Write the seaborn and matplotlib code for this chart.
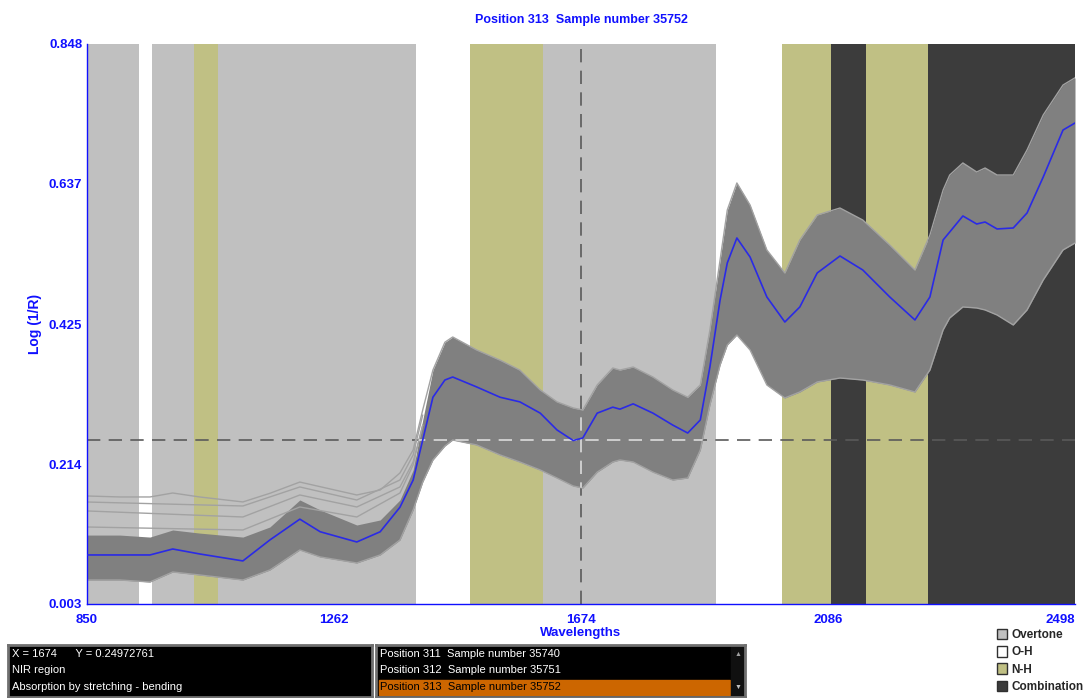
import numpy as np
import pandas as pd
import matplotlib
matplotlib.use("Agg")
import matplotlib.pyplot as plt
import seaborn as sns
from matplotlib.patches import Patch, Rectangle

# wavelengths (nm) where the curves were read
wl = [850, 905, 955, 993, 1038, 1110, 1155, 1205, 1239, 1300, 1339, 1372, 1394,
      1410, 1427, 1447, 1460, 1500, 1539, 1572, 1606, 1634, 1661, 1677, 1701,
      1727, 1739, 1761, 1794, 1827, 1852, 1873, 1889, 1906, 1918, 1934, 1956,
      1984, 2014, 2039, 2068, 2106, 2144, 2189, 2231, 2256, 2278, 2289, 2311,
      2334, 2348, 2368, 2395, 2418, 2445, 2478, 2498]

# selected spectrum (position 313)
selected = [0.077, 0.077, 0.077, 0.086, 0.0785, 0.068, 0.0996, 0.131, 0.112,
            0.0966, 0.112, 0.149, 0.190, 0.2505, 0.315, 0.341, 0.3455, 0.3305,
            0.315, 0.308, 0.291, 0.2656, 0.2497, 0.2535, 0.291, 0.300, 0.297,
            0.305, 0.291, 0.273, 0.261, 0.2807, 0.3606, 0.4617, 0.5176, 0.5553,
            0.5266, 0.4663, 0.4285, 0.4512, 0.5025, 0.5281, 0.507, 0.4663,
            0.4316, 0.4663, 0.5523, 0.5643, 0.5885, 0.5764, 0.5794, 0.5689,
            0.5704, 0.593, 0.6473, 0.7182, 0.7288]

# outermost spectra of the collection
upper = [0.166, 0.1645, 0.1645, 0.1705, 0.1645, 0.157, 0.170, 0.187, 0.180,
         0.1675, 0.175, 0.2007, 0.2354, 0.2958, 0.356, 0.398, 0.4059, 0.3863,
         0.371, 0.356, 0.326, 0.308, 0.2988, 0.2958, 0.3335, 0.3591, 0.356,
         0.3606, 0.3455, 0.326, 0.315, 0.3335, 0.4165, 0.5221, 0.5975, 0.6383,
         0.605, 0.5372, 0.5025, 0.5523, 0.590, 0.6005, 0.5824, 0.5447, 0.507,
         0.5598, 0.6277, 0.6503, 0.6685, 0.6549, 0.6609, 0.6503, 0.6503,
         0.6881, 0.7409, 0.7861, 0.797]
lower = [0.0392, 0.0392, 0.0362, 0.0513, 0.0468, 0.0392, 0.0543, 0.0845, 0.074,
         0.0649, 0.077, 0.0996, 0.1449, 0.187, 0.2203, 0.2414, 0.2505, 0.243,
         0.2279, 0.2173, 0.2052, 0.1931, 0.1811, 0.178, 0.202, 0.2173, 0.2203,
         0.2173, 0.202, 0.1901, 0.1931, 0.2354, 0.3033, 0.3637, 0.3938, 0.4089,
         0.3863, 0.3335, 0.3139, 0.3229, 0.338, 0.344, 0.341, 0.3335, 0.3229,
         0.3561, 0.4165, 0.4346, 0.4512, 0.4497, 0.4467, 0.4391, 0.424, 0.4467,
         0.4919, 0.5372, 0.5477]
# top of the dense part of the bundle
dense_top = [0.107, 0.107, 0.104, 0.1147, 0.110, 0.104, 0.1192, 0.160, 0.1449,
             0.1222, 0.1298, 0.160, 0.2052, 0.2807] + upper[14:]

# a few separate spectra above the bundle in the short-wave part
wl_out = [850, 1110, 1205, 1300, 1372, 1394, 1410]
outlier_a = [0.1569, 0.1509, 0.1796, 0.1599, 0.1901, 0.2279, 0.2882]
outlier_b = [0.1434, 0.1343, 0.1675, 0.1494, 0.1796, 0.2173, 0.2731]
outlier_c = [0.1192, 0.1147, 0.1494, 0.1343, 0.1705, 0.2128, 0.2731]

# absorption regions
region_start = [850, 958, 1068, 1611, 937, 1399, 1899, 1028, 1489, 2009, 2149, 2091, 2253]
region_end = [937, 1028, 1399, 1899, 958, 1489, 2009, 1068, 1611, 2091, 2253, 2149, 2498]
region_kind = ["Overtone"] * 4 + ["O-H"] * 3 + ["N-H"] * 4 + ["Combination"] * 2
kind_colors = {"Overtone": "#c0c0c0", "O-H": "#ffffff", "N-H": "#c0c084",
               "Combination": "#3c3c3c"}

cursor_x = 1674
cursor_y = 0.24972761
y_ticks = [0.003, 0.214, 0.425, 0.637, 0.848]
x_ticks = [850, 1262, 1674, 2086, 2498]

info_lines = ["X = 1674      Y = 0.24972761", "NIR region",
              "Absorption by stretching - bending"]
sample_rows = ["Position 311  Sample number 35740",
               "Position 312  Sample number 35751",
               "Position 313  Sample number 35752"]

sns.set_style("white")
plt.rcParams["font.family"] = ["Liberation Sans", "DejaVu Sans"]
blue = "#1010ff"

fig = plt.figure(figsize=(10.87, 6.98), dpi=100)
ax = fig.add_axes([87 / 1087, 1 - 604 / 698, 988 / 1087, 560 / 698])

for s, e, k in zip(region_start, region_end, region_kind):
    ax.axvspan(s, e, color=kind_colors[k], lw=0, zorder=0)

df = pd.DataFrame({"wl": wl, "sel": selected, "up": upper, "lo": lower,
                   "dense": dense_top})
band = ax.fill_between(df["wl"], df["lo"], df["dense"], color="#808080", lw=0, zorder=2)
sns.lineplot(data=df, x="wl", y="up", ax=ax, color="#a2a2a2", lw=1, zorder=2)
sns.lineplot(data=df, x="wl", y="lo", ax=ax, color="#a2a2a2", lw=1, zorder=2)
for o in [outlier_a, outlier_b, outlier_c]:
    sns.lineplot(x=wl_out, y=o, ax=ax, color="#a2a2a2", lw=1, zorder=2)

# cursor: dark dashes on the background, light dashes across the bundle
for col, z in [("#5a5a5a", 1.5), ("#dcdcdc", 3)]:
    h = ax.axhline(cursor_y, color=col, lw=1.2, ls=(0, (8, 5)), zorder=z)
    v = ax.axvline(cursor_x, color=col, lw=1.2, ls=(0, (8, 5)), zorder=z)
    if z == 3:
        for ln in (h, v):
            ln.set_clip_path(band.get_paths()[0], ax.transData)
sns.lineplot(data=df, x="wl", y="sel", ax=ax, color="#2a2ae6", lw=1.2, zorder=4)

ax.set_xlim(850, 2498)
ax.set_ylim(0.003, 0.848)
ax.set_xticks(x_ticks)
ax.set_xticklabels([str(t) for t in x_ticks])
ax.get_xticklabels()[-1].set_ha("right")
ax.set_yticks(y_ticks)
ax.set_yticklabels([f"{t:.3f}" for t in y_ticks])
ax.tick_params(colors=blue, labelsize=9.5, direction="in", length=3, width=1)
ax.tick_params(axis="x", pad=7)
for lab in ax.get_xticklabels() + ax.get_yticklabels():
    lab.set_fontweight("bold")
for side in ["top", "right"]:
    ax.spines[side].set_visible(False)
for side in ["left", "bottom"]:
    ax.spines[side].set_color(blue)
    ax.spines[side].set_linewidth(1)
ax.set_xlabel("Wavelengths", color=blue, fontsize=9.5, fontweight="bold", labelpad=1)
ax.set_ylabel("Log (1/R)", color=blue, fontsize=10, fontweight="bold", labelpad=5)
ax.set_title("Position 313  Sample number 35752", color=blue, fontsize=9,
             fontweight="bold", pad=15)

# info panel
ip = fig.add_axes([8 / 1087, 1 / 698, 364 / 1087, 52 / 698])
ip.set_facecolor("black")
for sp in ip.spines.values():
    sp.set_color("#707070")
    sp.set_linewidth(2)
ip.set_xticks([])
ip.set_yticks([])
for i, t in enumerate(info_lines):
    ip.text(0.012, 0.82 - i * 0.31, t, color="white", fontsize=8,
            va="center", transform=ip.transAxes)

# sample list
sp_ax = fig.add_axes([376 / 1087, 1 / 698, 369 / 1087, 52 / 698])
sp_ax.set_facecolor("black")
for sp in sp_ax.spines.values():
    sp.set_color("#707070")
    sp.set_linewidth(2)
sp_ax.set_xticks([])
sp_ax.set_yticks([])
sp_ax.set_xlim(0, 1)
sp_ax.set_ylim(0, 1)
sp_ax.add_patch(Rectangle((0.008, 0.03), 0.952, 0.30, color="#cc6600"))
sp_ax.add_patch(Rectangle((0.962, 0.0), 0.038, 1.0, color="#101010"))
sp_ax.text(0.981, 0.82, "\u25b2", color="#a0a0a0", fontsize=5, ha="center", va="center")
sp_ax.text(0.981, 0.18, "\u25bc", color="#c0c0c0", fontsize=5, ha="center", va="center")
for i, t in enumerate(sample_rows):
    sp_ax.text(0.012, 0.82 - i * 0.31, t, color="white" if i < 2 else "black",
               fontsize=8, va="center")

handles = [Patch(facecolor=kind_colors[k], edgecolor="#303030", lw=1)
           for k in ["Overtone", "O-H", "N-H", "Combination"]]
leg = fig.legend(handles, ["Overtone", "O-H", "N-H", "Combination"],
                 loc="upper left", bbox_to_anchor=(992 / 1087, 1 - 624 / 698),
                 frameon=False, fontsize=8.5, handlelength=0.9, handleheight=1.0,
                 handletextpad=0.35, labelspacing=0.42, borderaxespad=0)
for t in leg.get_texts():
    t.set_fontweight("bold")

fig.savefig("out.png", dpi=100)
